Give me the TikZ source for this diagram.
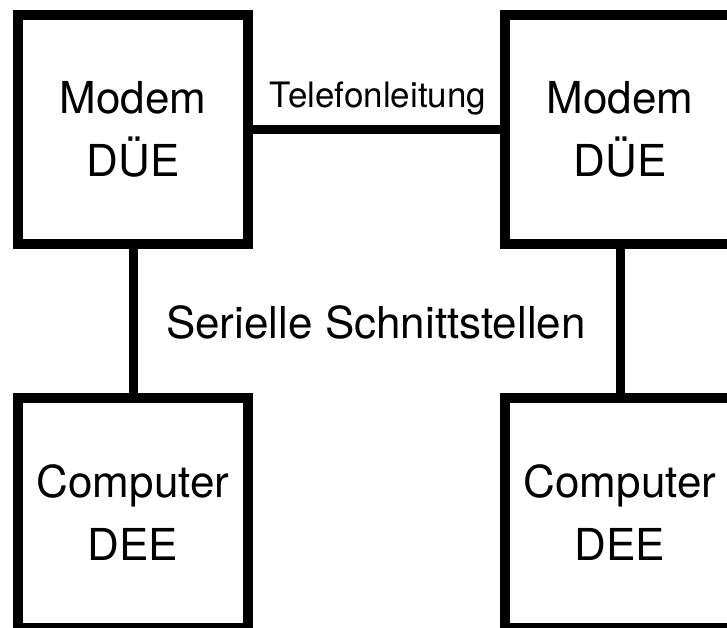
\documentclass[tikz,border=0pt]{standalone}
\usepackage{fontspec}
\setmainfont{TeX Gyre Heros}
\begin{document}
\begin{tikzpicture}[x=1pt,y=-1pt,
  box/.style={draw, line width=10pt, minimum width=230pt, minimum height=229pt,
    align=center, inner sep=0pt, font=\fontsize{44}{63}\selectfont},
  wire/.style={line width=9pt},
  lbl/.style={anchor=base, inner sep=0pt}]
\useasboundingbox (0,0) rectangle (727,628);
\clip (0,0) rectangle (727,628);
\node[box] (m1) at (133,129.5) {Modem\\DÜE};
\node[box] (m2) at (620,129.5) {Modem\\DÜE};
\node[box, minimum height=230pt] (c1) at (133,513) {Computer\\DEE};
\node[box, minimum height=230pt] (c2) at (620,513) {Computer\\DEE};
\draw[wire] (m1.east) -- (m2.west);
\draw[wire] (m1.south) -- (c1.north);
\draw[wire] (m2.south) -- (c2.north);
\node[lbl, font=\fontsize{35}{42}\selectfont] (tel) at (378,108) {Telefonleitung};
\node[lbl, font=\fontsize{44}{53}\selectfont] (ser) at (376,338) {Serielle Schnittstellen};
\end{tikzpicture}
\end{document}
